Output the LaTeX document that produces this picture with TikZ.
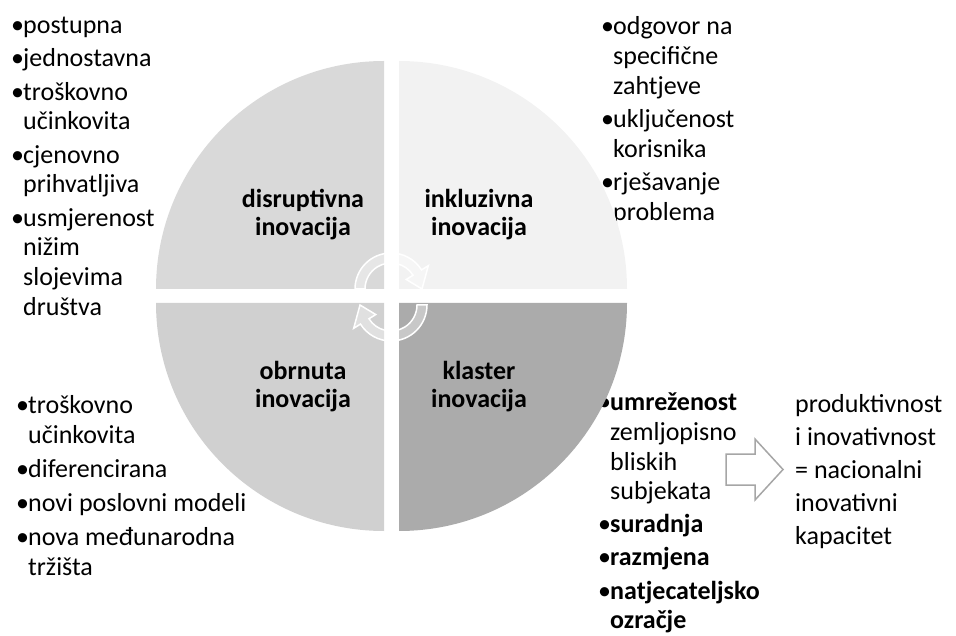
\documentclass[tikz,border=0pt]{standalone}
\usepackage{fontspec}
\setmainfont{Carlito}

\definecolor{quadTL}{RGB}{217,217,217}
\definecolor{quadTR}{RGB}{242,242,242}
\definecolor{quadBL}{RGB}{208,208,208}
\definecolor{quadBR}{RGB}{171,171,171}
\definecolor{arrowgray}{RGB}{166,166,166}

\newcommand{\bul}{\makebox[12pt][l]{\textbullet}}
\newcommand{\bulind}{\hspace*{12pt}}

\tikzset{
	listtext/.style={anchor=north west, inner sep=0pt, align=left, font=\fontsize{26}{29.6}\selectfont},
	quadlabel/.style={anchor=north, inner sep=0pt, align=center, font=\fontsize{26}{28.5}\selectfont\bfseries},
	cyclearrow/.style={draw=white, line width=1.5pt, fill=white, fill opacity=0.35},
	blockarrow/.style={draw=arrowgray, line width=1.5pt, fill=white},
}

\begin{document}
\begin{tikzpicture}[x=1pt,y=1pt,yscale=-1,xscale=1]
	\useasboundingbox (0,0) rectangle (956,636);
	
	% Text Node
	\node [listtext] (disrlist) at (11,12.5) {\strut\bul postupna\\[3.8pt]\bul jednostavna\\[3.8pt]%
		\bul troškovno\\\bulind učinkovita\\[3.8pt]\bul cjenovno\\\bulind prihvatljiva\\[3.8pt]%
		\bul usmjerenost\\\bulind nižim\\\bulind slojevima\\\bulind društva};
	% Text Node
	\node [listtext] (inkllist) at (601,14) {\strut\bul odgovor na\\\bulind specifične\\\bulind zahtjeve\\[3.8pt]%
		\bul uključenost\\\bulind korisnika\\[3.8pt]\bul rješavanje\\\bulind problema};
	% Text Node
	\node [listtext] (obrnlist) at (16,393) {\strut\bul troškovno\\\bulind učinkovita\\[4.5pt]%
		\bul diferencirana\\[4.5pt]\bul novi poslovni modeli\\[4.5pt]\bul nova međunarodna\\\bulind tržišta};
	% Text Node
	\node [listtext] (klaslist) at (598,390) {\strut\bul\textbf{umreženost}\\\bulind zemljopisno\\\bulind bliskih\\\bulind subjekata\\[3.5pt]%
		\bul\textbf{suradnja}\\[3.5pt]\bul\textbf{razmjena}\\[3.5pt]\bul\textbf{natjecateljsko}\\\bulind\textbf{ozračje}};
	
	%Shape: Quarter Circle [id:quadTL]
	\draw [draw=none, fill=quadTL] (384,289) -- (156,289) arc[start angle=180, end angle=270, radius=228] -- cycle;
	%Shape: Quarter Circle [id:quadTR]
	\draw [draw=none, fill=quadTR] (399,289) -- (399,61) arc[start angle=270, end angle=360, radius=228] -- cycle;
	%Shape: Quarter Circle [id:quadBR]
	\draw [draw=none, fill=quadBR] (399,303) -- (627,303) arc[start angle=0, end angle=90, radius=228] -- cycle;
	%Shape: Quarter Circle [id:quadBL]
	\draw [draw=none, fill=quadBL] (384,303) -- (384,531) arc[start angle=90, end angle=180, radius=228] -- cycle;
	
	% Text Node
	\node [quadlabel] (disr) at (303,187) {\strut disruptivna\\inovacija};
	% Text Node
	\node [quadlabel] (inkl) at (479,187) {\strut inkluzivna\\inovacija};
	% Text Node
	\node [quadlabel] (obrn) at (303,359) {\strut obrnuta\\inovacija};
	% Text Node
	\node [quadlabel] (klas) at (479,359) {\strut klaster\\inovacija};
	
	%Shape: Circular Arrow [id:cycletop]
	\begin{scope}[shift={(391,289)}]
		\draw [cyclearrow] (180:36) arc[start angle=180, end angle=328, radius=36] -- (328:44) -- (0:31) -- (328:18) -- (328:26) arc[start angle=328, end angle=180, radius=26] -- cycle;
	\end{scope}
	%Shape: Circular Arrow [id:cyclebottom]
	\begin{scope}[shift={(391,305)}]
		\draw [cyclearrow] (0:36) arc[start angle=0, end angle=148, radius=36] -- (148:44) -- (180:31) -- (148:18) -- (148:26) arc[start angle=148, end angle=0, radius=26] -- cycle;
	\end{scope}
	
	%Shape: Right Arrow [id:resultarrow]
	\draw [blockarrow] (726,454) -- (755,454) -- (755,439) -- (783,469.5) -- (755,500) -- (755,485) -- (726,485) -- cycle;
	
	% Text Node
	\node [anchor=north west, inner sep=0pt, align=left, font=\fontsize{26}{33}\selectfont] (result) at (795,389) {\strut produktivnost\\i inovativnost\\= nacionalni\\inovativni\\kapacitet};
\end{tikzpicture}
\end{document}
